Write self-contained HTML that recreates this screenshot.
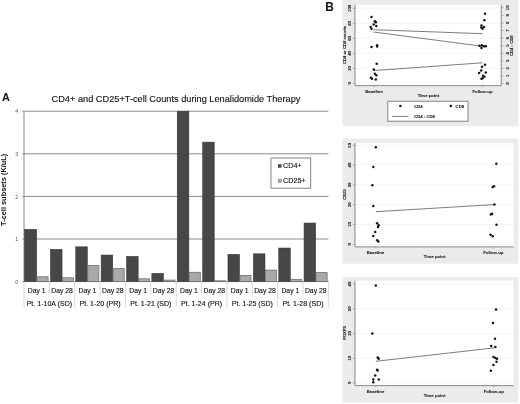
<!DOCTYPE html>
<html><head><meta charset="utf-8"><title>Figure</title>
<style>
html,body{margin:0;padding:0;background:#fff;}
body{width:520px;height:404px;overflow:hidden;}
svg{display:block;filter:blur(0.35px);font-family:'Liberation Sans', sans-serif;}
svg text{font-family:'Liberation Sans', sans-serif;}
</style></head>
<body>
<svg width="520" height="404" viewBox="0 0 520 404">
<rect x="0" y="0" width="520" height="404" fill="#fff"/>
<line x1="22.40" y1="281.60" x2="328.40" y2="281.60" stroke="#7e7e7e" stroke-width="0.9"/>
<text x="18.3" y="283.80" font-size="5.3" text-anchor="end" fill="#555">0</text>
<line x1="22.40" y1="239.00" x2="328.40" y2="239.00" stroke="#7e7e7e" stroke-width="0.9"/>
<text x="18.3" y="241.20" font-size="5.3" text-anchor="end" fill="#555">1</text>
<line x1="22.40" y1="196.40" x2="328.40" y2="196.40" stroke="#7e7e7e" stroke-width="0.9"/>
<text x="18.3" y="198.60" font-size="5.3" text-anchor="end" fill="#555">2</text>
<line x1="22.40" y1="153.80" x2="328.40" y2="153.80" stroke="#7e7e7e" stroke-width="0.9"/>
<text x="18.3" y="156.00" font-size="5.3" text-anchor="end" fill="#555">3</text>
<line x1="22.40" y1="111.20" x2="328.40" y2="111.20" stroke="#7e7e7e" stroke-width="0.9"/>
<text x="18.3" y="113.40" font-size="5.3" text-anchor="end" fill="#555">4</text>
<line x1="24.00" y1="111.20" x2="24.00" y2="281.60" stroke="#7e7e7e" stroke-width="0.9"/>
<rect x="24.40" y="229.30" width="12.30" height="52.30" fill="#474747" stroke="#363636" stroke-width="0.5"/>
<rect x="37.00" y="276.80" width="11.10" height="4.80" fill="#a9a9a9" stroke="#6f6f6f" stroke-width="0.8"/>
<rect x="50.37" y="249.30" width="11.70" height="32.30" fill="#474747" stroke="#363636" stroke-width="0.5"/>
<rect x="62.37" y="277.80" width="11.10" height="3.80" fill="#a9a9a9" stroke="#6f6f6f" stroke-width="0.8"/>
<rect x="75.73" y="246.80" width="11.70" height="34.80" fill="#474747" stroke="#363636" stroke-width="0.5"/>
<rect x="87.73" y="265.60" width="11.10" height="16.00" fill="#a9a9a9" stroke="#6f6f6f" stroke-width="0.8"/>
<rect x="101.10" y="255.00" width="11.70" height="26.60" fill="#474747" stroke="#363636" stroke-width="0.5"/>
<rect x="113.10" y="268.60" width="11.10" height="13.00" fill="#a9a9a9" stroke="#6f6f6f" stroke-width="0.8"/>
<rect x="126.47" y="256.30" width="11.70" height="25.30" fill="#474747" stroke="#363636" stroke-width="0.5"/>
<rect x="138.47" y="278.80" width="11.10" height="2.80" fill="#a9a9a9" stroke="#6f6f6f" stroke-width="0.8"/>
<rect x="151.83" y="273.30" width="11.70" height="8.30" fill="#474747" stroke="#363636" stroke-width="0.5"/>
<rect x="163.83" y="280.10" width="11.10" height="1.50" fill="#a9a9a9" stroke="#6f6f6f" stroke-width="0.8"/>
<rect x="177.20" y="111.20" width="11.70" height="170.40" fill="#474747" stroke="#363636" stroke-width="0.5"/>
<rect x="189.20" y="272.30" width="11.10" height="9.30" fill="#a9a9a9" stroke="#6f6f6f" stroke-width="0.8"/>
<rect x="202.57" y="142.10" width="11.70" height="139.50" fill="#474747" stroke="#363636" stroke-width="0.5"/>
<rect x="214.57" y="280.80" width="11.10" height="0.80" fill="#a9a9a9" stroke="#6f6f6f" stroke-width="0.8"/>
<rect x="227.93" y="254.30" width="11.70" height="27.30" fill="#474747" stroke="#363636" stroke-width="0.5"/>
<rect x="239.93" y="275.50" width="11.10" height="6.10" fill="#a9a9a9" stroke="#6f6f6f" stroke-width="0.8"/>
<rect x="253.30" y="253.80" width="11.70" height="27.80" fill="#474747" stroke="#363636" stroke-width="0.5"/>
<rect x="265.30" y="270.10" width="11.10" height="11.50" fill="#a9a9a9" stroke="#6f6f6f" stroke-width="0.8"/>
<rect x="278.67" y="248.00" width="11.70" height="33.60" fill="#474747" stroke="#363636" stroke-width="0.5"/>
<rect x="290.67" y="279.30" width="11.10" height="2.30" fill="#a9a9a9" stroke="#6f6f6f" stroke-width="0.8"/>
<rect x="304.03" y="223.00" width="11.70" height="58.60" fill="#474747" stroke="#363636" stroke-width="0.5"/>
<rect x="316.03" y="272.60" width="11.10" height="9.00" fill="#a9a9a9" stroke="#6f6f6f" stroke-width="0.8"/>
<line x1="24.00" y1="281.60" x2="24.00" y2="307.50" stroke="#b0b0b0" stroke-width="0.8" stroke-dasharray="1 0.7"/>
<line x1="49.37" y1="281.60" x2="49.37" y2="294.50" stroke="#b0b0b0" stroke-width="0.8" stroke-dasharray="1 0.7"/>
<line x1="74.73" y1="281.60" x2="74.73" y2="307.50" stroke="#b0b0b0" stroke-width="0.8" stroke-dasharray="1 0.7"/>
<line x1="100.10" y1="281.60" x2="100.10" y2="294.50" stroke="#b0b0b0" stroke-width="0.8" stroke-dasharray="1 0.7"/>
<line x1="125.47" y1="281.60" x2="125.47" y2="307.50" stroke="#b0b0b0" stroke-width="0.8" stroke-dasharray="1 0.7"/>
<line x1="150.83" y1="281.60" x2="150.83" y2="294.50" stroke="#b0b0b0" stroke-width="0.8" stroke-dasharray="1 0.7"/>
<line x1="176.20" y1="281.60" x2="176.20" y2="307.50" stroke="#b0b0b0" stroke-width="0.8" stroke-dasharray="1 0.7"/>
<line x1="201.57" y1="281.60" x2="201.57" y2="294.50" stroke="#b0b0b0" stroke-width="0.8" stroke-dasharray="1 0.7"/>
<line x1="226.93" y1="281.60" x2="226.93" y2="307.50" stroke="#b0b0b0" stroke-width="0.8" stroke-dasharray="1 0.7"/>
<line x1="252.30" y1="281.60" x2="252.30" y2="294.50" stroke="#b0b0b0" stroke-width="0.8" stroke-dasharray="1 0.7"/>
<line x1="277.67" y1="281.60" x2="277.67" y2="307.50" stroke="#b0b0b0" stroke-width="0.8" stroke-dasharray="1 0.7"/>
<line x1="303.03" y1="281.60" x2="303.03" y2="294.50" stroke="#b0b0b0" stroke-width="0.8" stroke-dasharray="1 0.7"/>
<line x1="328.40" y1="281.60" x2="328.40" y2="307.50" stroke="#b0b0b0" stroke-width="0.8" stroke-dasharray="1 0.7"/>
<text x="36.68" y="292.7" font-size="6.8" text-anchor="middle" fill="#111" stroke="#111" stroke-width="0.12">Day 1</text>
<text x="62.05" y="292.7" font-size="6.8" text-anchor="middle" fill="#111" stroke="#111" stroke-width="0.12">Day 28</text>
<text x="87.42" y="292.7" font-size="6.8" text-anchor="middle" fill="#111" stroke="#111" stroke-width="0.12">Day 1</text>
<text x="112.78" y="292.7" font-size="6.8" text-anchor="middle" fill="#111" stroke="#111" stroke-width="0.12">Day 28</text>
<text x="138.15" y="292.7" font-size="6.8" text-anchor="middle" fill="#111" stroke="#111" stroke-width="0.12">Day 1</text>
<text x="163.52" y="292.7" font-size="6.8" text-anchor="middle" fill="#111" stroke="#111" stroke-width="0.12">Day 28</text>
<text x="188.88" y="292.7" font-size="6.8" text-anchor="middle" fill="#111" stroke="#111" stroke-width="0.12">Day 1</text>
<text x="214.25" y="292.7" font-size="6.8" text-anchor="middle" fill="#111" stroke="#111" stroke-width="0.12">Day 28</text>
<text x="239.62" y="292.7" font-size="6.8" text-anchor="middle" fill="#111" stroke="#111" stroke-width="0.12">Day 1</text>
<text x="264.98" y="292.7" font-size="6.8" text-anchor="middle" fill="#111" stroke="#111" stroke-width="0.12">Day 28</text>
<text x="290.35" y="292.7" font-size="6.8" text-anchor="middle" fill="#111" stroke="#111" stroke-width="0.12">Day 1</text>
<text x="315.72" y="292.7" font-size="6.8" text-anchor="middle" fill="#111" stroke="#111" stroke-width="0.12">Day 28</text>
<text x="49.37" y="306.4" font-size="7.05" text-anchor="middle" fill="#111" stroke="#111" stroke-width="0.12">Pt. 1-10A (SD)</text>
<text x="100.10" y="306.4" font-size="7.05" text-anchor="middle" fill="#111" stroke="#111" stroke-width="0.12">Pt. 1-20 (PR)</text>
<text x="150.83" y="306.4" font-size="7.05" text-anchor="middle" fill="#111" stroke="#111" stroke-width="0.12">Pt. 1-21 (SD)</text>
<text x="201.57" y="306.4" font-size="7.05" text-anchor="middle" fill="#111" stroke="#111" stroke-width="0.12">Pt. 1-24 (PR)</text>
<text x="252.30" y="306.4" font-size="7.05" text-anchor="middle" fill="#111" stroke="#111" stroke-width="0.12">Pt. 1-25 (SD)</text>
<text x="303.03" y="306.4" font-size="7.05" text-anchor="middle" fill="#111" stroke="#111" stroke-width="0.12">Pt. 1-28 (SD)</text>
<text x="51.5" y="101.7" font-size="9.22" fill="#111" stroke="#111" stroke-width="0.12">CD4+ and CD25+T-cell Counts during Lenalidomide Therapy</text>
<text x="2" y="101.3" font-size="10.9" font-weight="bold" fill="#111">A</text>
<text transform="translate(6.0,189.8) rotate(-90)" font-size="7.4" font-weight="bold" text-anchor="middle" fill="#111">T-cell subsets (K/uL)</text>
<rect x="271" y="158" width="39.7" height="30.2" fill="#fff" stroke="#777" stroke-width="0.9"/>
<rect x="278" y="164.2" width="3.5" height="3.5" fill="#474747"/>
<rect x="278.2" y="179.2" width="3.2" height="3.2" fill="#a9a9a9" stroke="#6f6f6f" stroke-width="0.5"/>
<text x="283" y="168.4" font-size="7.25" fill="#111" stroke="#111" stroke-width="0.12">CD4+</text>
<text x="283" y="183.1" font-size="7.25" fill="#111" stroke="#111" stroke-width="0.12">CD25+</text>
<text x="325.3" y="10.7" font-size="11.9" font-weight="bold" fill="#111">B</text>
<rect x="342.5" y="0" width="175.8" height="126.4" fill="#ebebeb"/>
<rect x="355" y="4.8" width="146.2" height="80.8" fill="#fff"/>
<line x1="355" y1="83.40" x2="501.2" y2="83.40" stroke="#efefef" stroke-width="0.6"/>
<line x1="352.6" y1="83.40" x2="355" y2="83.40" stroke="#7c7c7c" stroke-width="0.5"/>
<text transform="translate(351.00,83.40) rotate(-90)" font-size="4.2" font-weight="bold" text-anchor="middle" fill="#2a2a2a" stroke="#2a2a2a" stroke-width="0.12">0</text>
<line x1="355" y1="68.40" x2="501.2" y2="68.40" stroke="#efefef" stroke-width="0.6"/>
<line x1="352.6" y1="68.40" x2="355" y2="68.40" stroke="#7c7c7c" stroke-width="0.5"/>
<text transform="translate(351.00,68.40) rotate(-90)" font-size="4.2" font-weight="bold" text-anchor="middle" fill="#2a2a2a" stroke="#2a2a2a" stroke-width="0.12">20</text>
<line x1="355" y1="53.40" x2="501.2" y2="53.40" stroke="#efefef" stroke-width="0.6"/>
<line x1="352.6" y1="53.40" x2="355" y2="53.40" stroke="#7c7c7c" stroke-width="0.5"/>
<text transform="translate(351.00,53.40) rotate(-90)" font-size="4.2" font-weight="bold" text-anchor="middle" fill="#2a2a2a" stroke="#2a2a2a" stroke-width="0.12">40</text>
<line x1="355" y1="38.40" x2="501.2" y2="38.40" stroke="#efefef" stroke-width="0.6"/>
<line x1="352.6" y1="38.40" x2="355" y2="38.40" stroke="#7c7c7c" stroke-width="0.5"/>
<text transform="translate(351.00,38.40) rotate(-90)" font-size="4.2" font-weight="bold" text-anchor="middle" fill="#2a2a2a" stroke="#2a2a2a" stroke-width="0.12">60</text>
<line x1="355" y1="23.40" x2="501.2" y2="23.40" stroke="#efefef" stroke-width="0.6"/>
<line x1="352.6" y1="23.40" x2="355" y2="23.40" stroke="#7c7c7c" stroke-width="0.5"/>
<text transform="translate(351.00,23.40) rotate(-90)" font-size="4.2" font-weight="bold" text-anchor="middle" fill="#2a2a2a" stroke="#2a2a2a" stroke-width="0.12">80</text>
<line x1="355" y1="8.40" x2="501.2" y2="8.40" stroke="#efefef" stroke-width="0.6"/>
<line x1="352.6" y1="8.40" x2="355" y2="8.40" stroke="#7c7c7c" stroke-width="0.5"/>
<text transform="translate(351.00,8.40) rotate(-90)" font-size="4.2" font-weight="bold" text-anchor="middle" fill="#2a2a2a" stroke="#2a2a2a" stroke-width="0.12">100</text>
<line x1="501.2" y1="83.50" x2="503.6" y2="83.50" stroke="#7c7c7c" stroke-width="0.5"/>
<text transform="translate(509.00,83.50) rotate(-90)" font-size="4.2" font-weight="bold" text-anchor="middle" fill="#2a2a2a" stroke="#2a2a2a" stroke-width="0.12">0</text>
<line x1="501.2" y1="75.93" x2="503.6" y2="75.93" stroke="#7c7c7c" stroke-width="0.5"/>
<text transform="translate(509.00,75.93) rotate(-90)" font-size="4.2" font-weight="bold" text-anchor="middle" fill="#2a2a2a" stroke="#2a2a2a" stroke-width="0.12">1</text>
<line x1="501.2" y1="68.36" x2="503.6" y2="68.36" stroke="#7c7c7c" stroke-width="0.5"/>
<text transform="translate(509.00,68.36) rotate(-90)" font-size="4.2" font-weight="bold" text-anchor="middle" fill="#2a2a2a" stroke="#2a2a2a" stroke-width="0.12">2</text>
<line x1="501.2" y1="60.79" x2="503.6" y2="60.79" stroke="#7c7c7c" stroke-width="0.5"/>
<text transform="translate(509.00,60.79) rotate(-90)" font-size="4.2" font-weight="bold" text-anchor="middle" fill="#2a2a2a" stroke="#2a2a2a" stroke-width="0.12">3</text>
<line x1="501.2" y1="53.22" x2="503.6" y2="53.22" stroke="#7c7c7c" stroke-width="0.5"/>
<text transform="translate(509.00,53.22) rotate(-90)" font-size="4.2" font-weight="bold" text-anchor="middle" fill="#2a2a2a" stroke="#2a2a2a" stroke-width="0.12">4</text>
<line x1="501.2" y1="45.65" x2="503.6" y2="45.65" stroke="#7c7c7c" stroke-width="0.5"/>
<text transform="translate(509.00,45.65) rotate(-90)" font-size="4.2" font-weight="bold" text-anchor="middle" fill="#2a2a2a" stroke="#2a2a2a" stroke-width="0.12">5</text>
<line x1="501.2" y1="38.08" x2="503.6" y2="38.08" stroke="#7c7c7c" stroke-width="0.5"/>
<text transform="translate(509.00,38.08) rotate(-90)" font-size="4.2" font-weight="bold" text-anchor="middle" fill="#2a2a2a" stroke="#2a2a2a" stroke-width="0.12">6</text>
<line x1="501.2" y1="30.51" x2="503.6" y2="30.51" stroke="#7c7c7c" stroke-width="0.5"/>
<text transform="translate(509.00,30.51) rotate(-90)" font-size="4.2" font-weight="bold" text-anchor="middle" fill="#2a2a2a" stroke="#2a2a2a" stroke-width="0.12">7</text>
<line x1="501.2" y1="22.94" x2="503.6" y2="22.94" stroke="#7c7c7c" stroke-width="0.5"/>
<text transform="translate(509.00,22.94) rotate(-90)" font-size="4.2" font-weight="bold" text-anchor="middle" fill="#2a2a2a" stroke="#2a2a2a" stroke-width="0.12">8</text>
<line x1="501.2" y1="15.37" x2="503.6" y2="15.37" stroke="#7c7c7c" stroke-width="0.5"/>
<text transform="translate(509.00,15.37) rotate(-90)" font-size="4.2" font-weight="bold" text-anchor="middle" fill="#2a2a2a" stroke="#2a2a2a" stroke-width="0.12">9</text>
<line x1="501.2" y1="7.80" x2="503.6" y2="7.80" stroke="#7c7c7c" stroke-width="0.5"/>
<text transform="translate(509.00,7.80) rotate(-90)" font-size="4.2" font-weight="bold" text-anchor="middle" fill="#2a2a2a" stroke="#2a2a2a" stroke-width="0.12">10</text>
<line x1="355" y1="4.8" x2="355" y2="85.6" stroke="#7c7c7c" stroke-width="0.9"/>
<line x1="501.2" y1="4.8" x2="501.2" y2="85.6" stroke="#7c7c7c" stroke-width="0.9"/>
<line x1="355" y1="85.6" x2="501.2" y2="85.6" stroke="#7c7c7c" stroke-width="0.9"/>
<line x1="373.8" y1="85.6" x2="373.8" y2="87.3" stroke="#7c7c7c" stroke-width="0.5"/>
<line x1="482.6" y1="85.6" x2="482.6" y2="87.3" stroke="#7c7c7c" stroke-width="0.5"/>
<text transform="translate(346.10,44.90) rotate(-90)" font-size="4.2" font-weight="bold" text-anchor="middle" fill="#2a2a2a" stroke="#2a2a2a" stroke-width="0.12">CD4 or CD8 counts</text>
<text transform="translate(512.80,45.70) rotate(-90)" font-size="4.2" font-weight="bold" text-anchor="middle" fill="#2a2a2a" stroke="#2a2a2a" stroke-width="0.12">CD4 : CD8</text>
<text x="374.00" y="93.20" font-size="4.27" font-weight="bold" text-anchor="middle" fill="#2a2a2a" stroke="#2a2a2a" stroke-width="0.12">Baseline</text>
<text x="482.50" y="92.80" font-size="4.27" font-weight="bold" text-anchor="middle" fill="#2a2a2a" stroke="#2a2a2a" stroke-width="0.12">Follow-up</text>
<text x="428.40" y="97.40" font-size="4.27" font-weight="bold" text-anchor="middle" fill="#2a2a2a" stroke="#2a2a2a" stroke-width="0.12">Time point</text>
<line x1="373.4" y1="29.7" x2="482.6" y2="33.7" stroke="#5c5c5c" stroke-width="0.8"/>
<line x1="373.4" y1="32.0" x2="482.6" y2="46.3" stroke="#5c5c5c" stroke-width="0.8"/>
<line x1="373.4" y1="70.6" x2="482.6" y2="62.8" stroke="#5c5c5c" stroke-width="0.8"/>
<circle cx="371.5" cy="16.9" r="1.25" fill="#151515"/>
<circle cx="374.8" cy="21.2" r="1.25" fill="#151515"/>
<circle cx="375.9" cy="22.3" r="1.25" fill="#151515"/>
<circle cx="373.8" cy="24.6" r="1.25" fill="#151515"/>
<circle cx="376.3" cy="26.0" r="1.25" fill="#151515"/>
<circle cx="370.6" cy="26.9" r="1.25" fill="#151515"/>
<circle cx="371.5" cy="28.8" r="1.25" fill="#151515"/>
<circle cx="371.5" cy="47.1" r="1.25" fill="#151515"/>
<circle cx="377.1" cy="45.2" r="1.25" fill="#151515"/>
<circle cx="377.1" cy="46.4" r="1.25" fill="#151515"/>
<circle cx="376.7" cy="63.8" r="1.25" fill="#151515"/>
<circle cx="373.8" cy="69.5" r="1.25" fill="#151515"/>
<circle cx="374.8" cy="73.8" r="1.25" fill="#151515"/>
<circle cx="376.3" cy="75.3" r="1.25" fill="#151515"/>
<circle cx="371.0" cy="77.7" r="1.25" fill="#151515"/>
<circle cx="372.0" cy="78.8" r="1.25" fill="#151515"/>
<circle cx="375.8" cy="79.5" r="1.25" fill="#151515"/>
<circle cx="485.0" cy="13.8" r="1.25" fill="#151515"/>
<circle cx="484.4" cy="20.2" r="1.25" fill="#151515"/>
<circle cx="481.5" cy="25.6" r="1.25" fill="#151515"/>
<circle cx="484.0" cy="26.9" r="1.25" fill="#151515"/>
<circle cx="482.5" cy="28.8" r="1.25" fill="#151515"/>
<circle cx="481.3" cy="27.4" r="1.25" fill="#151515"/>
<circle cx="479.6" cy="45.8" r="1.25" fill="#151515"/>
<circle cx="482.0" cy="45.2" r="1.25" fill="#151515"/>
<circle cx="484.0" cy="46.2" r="1.25" fill="#151515"/>
<circle cx="485.8" cy="46.2" r="1.25" fill="#151515"/>
<circle cx="481.5" cy="48.0" r="1.25" fill="#151515"/>
<circle cx="485.0" cy="64.8" r="1.25" fill="#151515"/>
<circle cx="482.0" cy="66.7" r="1.25" fill="#151515"/>
<circle cx="481.2" cy="70.6" r="1.25" fill="#151515"/>
<circle cx="485.8" cy="72.5" r="1.25" fill="#151515"/>
<circle cx="479.2" cy="72.9" r="1.25" fill="#151515"/>
<circle cx="483.0" cy="75.8" r="1.25" fill="#151515"/>
<circle cx="484.4" cy="76.7" r="1.25" fill="#151515"/>
<circle cx="482.5" cy="78.3" r="1.25" fill="#151515"/>
<circle cx="481.5" cy="78.8" r="1.25" fill="#151515"/>
<rect x="387.8" y="101.2" width="80.2" height="20" fill="#fff" stroke="#6a6a6a" stroke-width="0.8"/>
<circle cx="400.4" cy="106.0" r="1.25" fill="#151515"/>
<circle cx="450.8" cy="106.0" r="1.25" fill="#151515"/>
<line x1="392" y1="116.4" x2="408.5" y2="116.4" stroke="#5c5c5c" stroke-width="0.8"/>
<text x="414.20" y="107.60" font-size="4.25" font-weight="bold" text-anchor="start" fill="#2a2a2a" stroke="#2a2a2a" stroke-width="0.12">CD4</text>
<text x="455.60" y="107.60" font-size="4.25" font-weight="bold" text-anchor="start" fill="#2a2a2a" stroke="#2a2a2a" stroke-width="0.12">CD8</text>
<text x="414.20" y="118.30" font-size="4.25" font-weight="bold" text-anchor="start" fill="#2a2a2a" stroke="#2a2a2a" stroke-width="0.12">CD4 : CD8</text>
<rect x="342.5" y="138.6" width="175.8" height="125.1" fill="#ebebeb"/>
<rect x="355" y="142.8" width="158.6" height="104.1" fill="#fff"/>
<line x1="355" y1="244.30" x2="513.6" y2="244.30" stroke="#efefef" stroke-width="0.6"/>
<line x1="352.6" y1="244.30" x2="355" y2="244.30" stroke="#7c7c7c" stroke-width="0.5"/>
<text transform="translate(351.00,244.30) rotate(-90)" font-size="4.2" font-weight="bold" text-anchor="middle" fill="#2a2a2a" stroke="#2a2a2a" stroke-width="0.12">0</text>
<line x1="355" y1="224.50" x2="513.6" y2="224.50" stroke="#efefef" stroke-width="0.6"/>
<line x1="352.6" y1="224.50" x2="355" y2="224.50" stroke="#7c7c7c" stroke-width="0.5"/>
<text transform="translate(351.00,224.50) rotate(-90)" font-size="4.2" font-weight="bold" text-anchor="middle" fill="#2a2a2a" stroke="#2a2a2a" stroke-width="0.12">10</text>
<line x1="355" y1="204.70" x2="513.6" y2="204.70" stroke="#efefef" stroke-width="0.6"/>
<line x1="352.6" y1="204.70" x2="355" y2="204.70" stroke="#7c7c7c" stroke-width="0.5"/>
<text transform="translate(351.00,204.70) rotate(-90)" font-size="4.2" font-weight="bold" text-anchor="middle" fill="#2a2a2a" stroke="#2a2a2a" stroke-width="0.12">20</text>
<line x1="355" y1="184.90" x2="513.6" y2="184.90" stroke="#efefef" stroke-width="0.6"/>
<line x1="352.6" y1="184.90" x2="355" y2="184.90" stroke="#7c7c7c" stroke-width="0.5"/>
<text transform="translate(351.00,184.90) rotate(-90)" font-size="4.2" font-weight="bold" text-anchor="middle" fill="#2a2a2a" stroke="#2a2a2a" stroke-width="0.12">30</text>
<line x1="355" y1="165.10" x2="513.6" y2="165.10" stroke="#efefef" stroke-width="0.6"/>
<line x1="352.6" y1="165.10" x2="355" y2="165.10" stroke="#7c7c7c" stroke-width="0.5"/>
<text transform="translate(351.00,165.10) rotate(-90)" font-size="4.2" font-weight="bold" text-anchor="middle" fill="#2a2a2a" stroke="#2a2a2a" stroke-width="0.12">40</text>
<line x1="355" y1="145.30" x2="513.6" y2="145.30" stroke="#efefef" stroke-width="0.6"/>
<line x1="352.6" y1="145.30" x2="355" y2="145.30" stroke="#7c7c7c" stroke-width="0.5"/>
<text transform="translate(351.00,145.30) rotate(-90)" font-size="4.2" font-weight="bold" text-anchor="middle" fill="#2a2a2a" stroke="#2a2a2a" stroke-width="0.12">50</text>
<line x1="355" y1="142.8" x2="355" y2="246.9" stroke="#7c7c7c" stroke-width="0.9"/>
<line x1="355" y1="246.9" x2="513.6" y2="246.9" stroke="#7c7c7c" stroke-width="0.9"/>
<line x1="375.8" y1="246.9" x2="375.8" y2="248.6" stroke="#7c7c7c" stroke-width="0.5"/>
<line x1="493.3" y1="246.9" x2="493.3" y2="248.6" stroke="#7c7c7c" stroke-width="0.5"/>
<text transform="translate(346.10,194.50) rotate(-90)" font-size="4.2" font-weight="bold" text-anchor="middle" fill="#2a2a2a" stroke="#2a2a2a" stroke-width="0.12">CD25</text>
<text x="375.40" y="253.60" font-size="4.27" font-weight="bold" text-anchor="middle" fill="#2a2a2a" stroke="#2a2a2a" stroke-width="0.12">Baseline</text>
<text x="493.30" y="253.80" font-size="4.27" font-weight="bold" text-anchor="middle" fill="#2a2a2a" stroke="#2a2a2a" stroke-width="0.12">Follow-up</text>
<text x="434.60" y="258.00" font-size="4.27" font-weight="bold" text-anchor="middle" fill="#2a2a2a" stroke="#2a2a2a" stroke-width="0.12">Time point</text>
<line x1="375.8" y1="211.7" x2="494.0" y2="204.6" stroke="#5c5c5c" stroke-width="0.8"/>
<circle cx="375.8" cy="147.3" r="1.25" fill="#151515"/>
<circle cx="373.3" cy="166.9" r="1.25" fill="#151515"/>
<circle cx="372.3" cy="185.2" r="1.25" fill="#151515"/>
<circle cx="373.3" cy="206.0" r="1.25" fill="#151515"/>
<circle cx="377.1" cy="223.3" r="1.25" fill="#151515"/>
<circle cx="378.7" cy="225.2" r="1.25" fill="#151515"/>
<circle cx="378.0" cy="227.1" r="1.25" fill="#151515"/>
<circle cx="375.2" cy="231.9" r="1.25" fill="#151515"/>
<circle cx="373.3" cy="236.0" r="1.25" fill="#151515"/>
<circle cx="377.1" cy="240.2" r="1.25" fill="#151515"/>
<circle cx="378.3" cy="241.5" r="1.25" fill="#151515"/>
<circle cx="496.3" cy="163.7" r="1.25" fill="#151515"/>
<circle cx="494.0" cy="186.3" r="1.25" fill="#151515"/>
<circle cx="492.7" cy="187.1" r="1.25" fill="#151515"/>
<circle cx="494.4" cy="204.6" r="1.25" fill="#151515"/>
<circle cx="492.1" cy="213.7" r="1.25" fill="#151515"/>
<circle cx="490.8" cy="214.6" r="1.25" fill="#151515"/>
<circle cx="496.5" cy="224.8" r="1.25" fill="#151515"/>
<circle cx="490.6" cy="234.8" r="1.25" fill="#151515"/>
<circle cx="492.7" cy="236.3" r="1.25" fill="#151515"/>
<rect x="342.5" y="276.9" width="175.8" height="125.6" fill="#ebebeb"/>
<rect x="355" y="280.8" width="158.6" height="104.8" fill="#fff"/>
<line x1="355" y1="382.90" x2="513.6" y2="382.90" stroke="#efefef" stroke-width="0.6"/>
<line x1="352.6" y1="382.90" x2="355" y2="382.90" stroke="#7c7c7c" stroke-width="0.5"/>
<text transform="translate(351.00,382.90) rotate(-90)" font-size="4.2" font-weight="bold" text-anchor="middle" fill="#2a2a2a" stroke="#2a2a2a" stroke-width="0.12">0</text>
<line x1="355" y1="358.20" x2="513.6" y2="358.20" stroke="#efefef" stroke-width="0.6"/>
<line x1="352.6" y1="358.20" x2="355" y2="358.20" stroke="#7c7c7c" stroke-width="0.5"/>
<text transform="translate(351.00,358.20) rotate(-90)" font-size="4.2" font-weight="bold" text-anchor="middle" fill="#2a2a2a" stroke="#2a2a2a" stroke-width="0.12">10</text>
<line x1="355" y1="333.50" x2="513.6" y2="333.50" stroke="#efefef" stroke-width="0.6"/>
<line x1="352.6" y1="333.50" x2="355" y2="333.50" stroke="#7c7c7c" stroke-width="0.5"/>
<text transform="translate(351.00,333.50) rotate(-90)" font-size="4.2" font-weight="bold" text-anchor="middle" fill="#2a2a2a" stroke="#2a2a2a" stroke-width="0.12">20</text>
<line x1="355" y1="308.80" x2="513.6" y2="308.80" stroke="#efefef" stroke-width="0.6"/>
<line x1="352.6" y1="308.80" x2="355" y2="308.80" stroke="#7c7c7c" stroke-width="0.5"/>
<text transform="translate(351.00,308.80) rotate(-90)" font-size="4.2" font-weight="bold" text-anchor="middle" fill="#2a2a2a" stroke="#2a2a2a" stroke-width="0.12">30</text>
<line x1="355" y1="284.10" x2="513.6" y2="284.10" stroke="#efefef" stroke-width="0.6"/>
<line x1="352.6" y1="284.10" x2="355" y2="284.10" stroke="#7c7c7c" stroke-width="0.5"/>
<text transform="translate(351.00,284.10) rotate(-90)" font-size="4.2" font-weight="bold" text-anchor="middle" fill="#2a2a2a" stroke="#2a2a2a" stroke-width="0.12">40</text>
<line x1="355" y1="280.8" x2="355" y2="385.6" stroke="#7c7c7c" stroke-width="0.9"/>
<line x1="355" y1="385.6" x2="513.6" y2="385.6" stroke="#7c7c7c" stroke-width="0.9"/>
<line x1="375.8" y1="385.6" x2="375.8" y2="387.3" stroke="#7c7c7c" stroke-width="0.5"/>
<line x1="493.6" y1="385.6" x2="493.6" y2="387.3" stroke="#7c7c7c" stroke-width="0.5"/>
<text transform="translate(346.10,333.00) rotate(-90)" font-size="4.2" font-weight="bold" text-anchor="middle" fill="#2a2a2a" stroke="#2a2a2a" stroke-width="0.12">FOXP3</text>
<text x="375.50" y="392.70" font-size="4.27" font-weight="bold" text-anchor="middle" fill="#2a2a2a" stroke="#2a2a2a" stroke-width="0.12">Baseline</text>
<text x="493.70" y="392.70" font-size="4.27" font-weight="bold" text-anchor="middle" fill="#2a2a2a" stroke="#2a2a2a" stroke-width="0.12">Follow-up</text>
<text x="434.60" y="396.50" font-size="4.27" font-weight="bold" text-anchor="middle" fill="#2a2a2a" stroke="#2a2a2a" stroke-width="0.12">Time point</text>
<line x1="375.8" y1="361.3" x2="494.0" y2="347.9" stroke="#5c5c5c" stroke-width="0.8"/>
<circle cx="375.8" cy="285.4" r="1.25" fill="#151515"/>
<circle cx="372.3" cy="333.5" r="1.25" fill="#151515"/>
<circle cx="377.7" cy="357.5" r="1.25" fill="#151515"/>
<circle cx="378.7" cy="358.8" r="1.25" fill="#151515"/>
<circle cx="377.1" cy="369.8" r="1.25" fill="#151515"/>
<circle cx="377.6" cy="370.6" r="1.25" fill="#151515"/>
<circle cx="375.2" cy="375.6" r="1.25" fill="#151515"/>
<circle cx="373.3" cy="379.6" r="1.25" fill="#151515"/>
<circle cx="378.7" cy="379.6" r="1.25" fill="#151515"/>
<circle cx="373.3" cy="382.3" r="1.25" fill="#151515"/>
<circle cx="496.0" cy="309.4" r="1.25" fill="#151515"/>
<circle cx="493.0" cy="322.9" r="1.25" fill="#151515"/>
<circle cx="495.0" cy="338.7" r="1.25" fill="#151515"/>
<circle cx="491.2" cy="346.0" r="1.25" fill="#151515"/>
<circle cx="495.4" cy="346.9" r="1.25" fill="#151515"/>
<circle cx="493.5" cy="356.9" r="1.25" fill="#151515"/>
<circle cx="495.4" cy="357.9" r="1.25" fill="#151515"/>
<circle cx="497.0" cy="358.8" r="1.25" fill="#151515"/>
<circle cx="496.5" cy="361.7" r="1.25" fill="#151515"/>
<circle cx="493.5" cy="365.0" r="1.25" fill="#151515"/>
<circle cx="490.8" cy="370.8" r="1.25" fill="#151515"/>
</svg>
</body></html>
